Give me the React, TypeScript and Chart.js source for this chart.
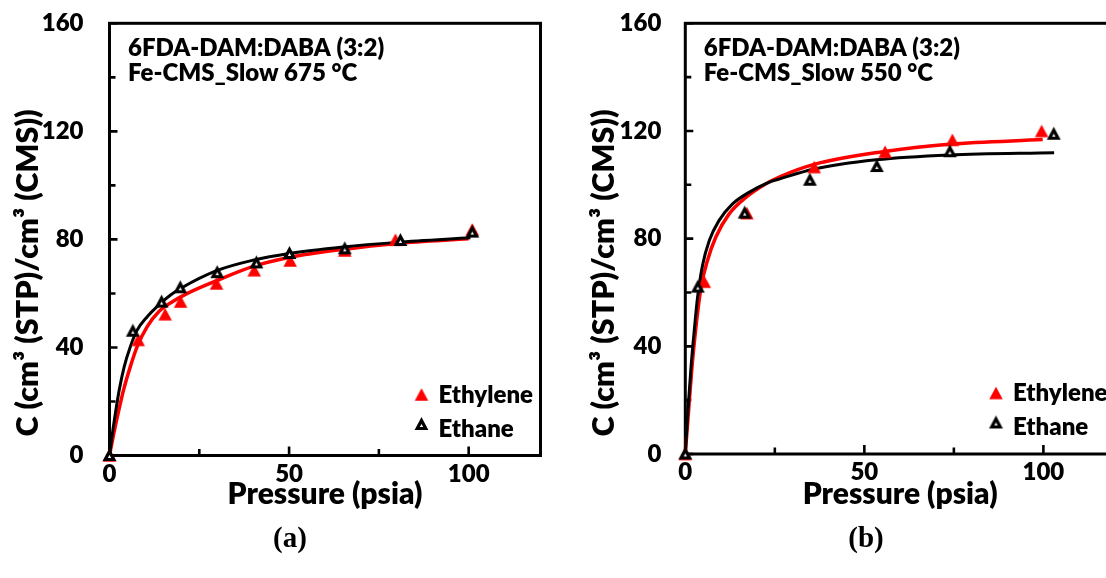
import React, { useEffect, useRef } from 'react';
import { Chart, registerables } from 'chart.js';

Chart.register(...registerables);

// ---------- axis ticks ----------
const pressureTicks = [0, 50, 100];
const pressureMinorTicks = [25, 75];
const uptakeTicks = [0, 40, 80, 120, 160];
const uptakeMinorTicks = [20, 60, 100, 140];

// ---------- panel (a): Fe-CMS_Slow 675 °C ----------
const ethyleneA_P = [0, 8.0, 15.5, 19.8, 29.8, 40.3, 50.3, 65.5, 79.6, 101];
const ethyleneA_C = [0, 42.8, 52.3, 57.0, 63.7, 68.6, 72.2, 75.9, 79.9, 83.7];
const ethaneA_P = [0, 6.5, 14.5, 19.7, 30.0, 40.9, 50.1, 65.5, 81.0, 101];
const ethaneA_C = [0, 46.0, 56.8, 62.1, 67.7, 71.3, 74.8, 76.5, 79.6, 82.7];
const ethyleneFitA_P = [0, 1.1, 2.5, 3.9, 5.8, 7.7, 10.5, 13.7, 17.5, 21.7, 30, 40, 50, 65, 80, 100];
const ethyleneFitA_C = [0, 7.5, 16.2, 24.2, 32.9, 40.3, 47.7, 53.2, 56.9, 60.0, 64.8, 70.0, 73.3, 76.3, 78.5, 80.2];
const ethaneFitA_P = [0, 0.67, 1.6, 2.7, 4.1, 5.8, 7.7, 10.5, 13.7, 17, 20, 30, 40, 50, 65, 80, 100.5];
const ethaneFitA_C = [0, 6.9, 15.3, 24.2, 32.9, 40.3, 46.4, 51.4, 55.7, 59.4, 62.0, 68.5, 72.3, 74.8, 77.2, 78.9, 80.6];

// ---------- panel (b): Fe-CMS_Slow 550 °C ----------
const ethyleneB_P = [0, 5.3, 17.2, 36.0, 55.8, 74.6, 99.5];
const ethyleneB_C = [0, 64.0, 89.5, 106.6, 112.3, 116.7, 120.0];
const ethaneB_P = [0, 3.5, 16.6, 34.8, 53.5, 73.9, 102.9];
const ethaneB_C = [0, 62.0, 89.5, 101.7, 106.8, 112.3, 118.8];
const ethyleneFitB_P = [0, 0.94, 1.86, 2.97, 4.4, 6.2, 8.5, 12.2, 16.9, 22.4, 26.4, 35.7, 55.2, 73.8, 99.8];
const ethyleneFitB_C = [0, 16.5, 32.3, 47.2, 62.0, 71.9, 80.5, 89.1, 95.3, 100.3, 103.0, 107.5, 112.3, 115.1, 116.8];
const ethaneFitB_P = [0, 0.67, 1.6, 2.5, 3.4, 4.8, 6.7, 9.4, 13.2, 17.8, 23.3, 26.4, 35.7, 53.3, 73.8, 103];
const ethaneFitB_C = [0, 15.0, 32.3, 45.9, 58.0, 70.0, 79.3, 86.7, 92.9, 97.2, 100.9, 102.2, 105.8, 109.3, 111.1, 111.9];

const seriesNames = ['Ethylene', 'Ethane'];
const xTitle = 'Pressure (psia)';
const yTitle = 'C (cm³ (STP)/cm³ (CMS))';

const FONT = 'Lato';
const WEIGHT = '800';
const H = 578;

function pts(xs: number[], ys: number[]) {
  return xs.map((x, i) => ({ x, y: ys[i] }));
}

function makeTriangle(fill: string, stroke: string | null, w: number, h: number, lw: number) {
  const c = document.createElement('canvas');
  const cw = Math.ceil(w + lw * 2 + 4);
  const ch = Math.ceil(h + lw * 2 + 4);
  c.width = cw;
  c.height = ch;
  const g = c.getContext('2d')!;
  g.beginPath();
  g.moveTo(cw / 2, (ch - h) / 2);
  g.lineTo((cw + w) / 2, (ch + h) / 2);
  g.lineTo((cw - w) / 2, (ch + h) / 2);
  g.closePath();
  g.fillStyle = fill;
  g.fill();
  if (stroke) {
    g.lineWidth = lw;
    g.lineJoin = 'miter';
    g.strokeStyle = stroke;
    g.stroke();
  }
  return c;
}

type PanelCfg = {
  left: number;
  width: number;
  yAxisWidth: number;
  xAxisHeight: number;
  padTop: number;
  padRight: number;
  yTickPad: number;
  note1: string;
  note2: string;
  ethP: number[]; ethC: number[];
  etaP: number[]; etaC: number[];
  ethFitP: number[]; ethFitC: number[];
  etaFitP: number[]; etaFitC: number[];
};

function Panel({ cfg }: { cfg: PanelCfg }) {
  const ref = useRef<HTMLCanvasElement | null>(null);
  useEffect(() => {
    if (!ref.current) return;
    const redTri = makeTriangle('#ff0000', null, 13.5, 12.5, 0);
    const blackTri = makeTriangle('#ffffff', '#000000', 8.5, 8, 3.2);

    const decor = {
      id: 'decor',
      beforeDatasetsDraw(chart: any) {
        const { ctx, chartArea: ca, scales } = chart;
        ctx.save();
        ctx.strokeStyle = '#000';
        ctx.lineWidth = 3;
        ctx.strokeRect(ca.left, ca.top, ca.right - ca.left, ca.bottom - ca.top);
        ctx.lineWidth = 2.6;
        ctx.beginPath();
        pressureTicks.forEach((v) => {
          const x = scales.x.getPixelForValue(v);
          ctx.moveTo(x, ca.bottom);
          ctx.lineTo(x, ca.bottom - 9);
        });
        pressureMinorTicks.forEach((v) => {
          const x = scales.x.getPixelForValue(v);
          ctx.moveTo(x, ca.bottom);
          ctx.lineTo(x, ca.bottom - 6.5);
        });
        uptakeTicks.forEach((v) => {
          const y = scales.y.getPixelForValue(v);
          ctx.moveTo(ca.left, y);
          ctx.lineTo(ca.left + 8, y);
        });
        uptakeMinorTicks.forEach((v) => {
          const y = scales.y.getPixelForValue(v);
          ctx.moveTo(ca.left, y);
          ctx.lineTo(ca.left + 6, y);
        });
        ctx.stroke();
        ctx.restore();
      },
      afterDraw(chart: any) {
        const { ctx, chartArea: ca } = chart;
        ctx.save();
        ctx.fillStyle = '#000';
        // annotation
        ctx.font = `${WEIGHT} 24px ${FONT}`;
        ctx.textAlign = 'left';
        ctx.textBaseline = 'alphabetic';
        ctx.fillText(cfg.note1, ca.left + 18.5, 56);
        ctx.fillText(cfg.note2, ca.left + 18.5, 81);
        // x title
        ctx.font = `${WEIGHT} 30px ${FONT}`;
        ctx.textAlign = 'center';
        ctx.fillText(xTitle, (ca.left + ca.right) / 2, 504);
        // y title
        ctx.save();
        ctx.translate(ca.left - 81.5, 273);
        ctx.rotate(-Math.PI / 2);
        ctx.textBaseline = 'middle';
        ctx.font = `${WEIGHT} 30.5px ${FONT}`;
        ctx.fillText(yTitle, 0, 0);
        ctx.restore();
        // legend
        ctx.font = `${WEIGHT} 24px ${FONT}`;
        ctx.textAlign = 'left';
        ctx.textBaseline = 'alphabetic';
        const mx = ca.right - 119;
        ctx.drawImage(redTri, mx - redTri.width / 2, ca.bottom - 61 - redTri.height / 2);
        ctx.fillText(seriesNames[0], ca.right - 102, ca.bottom - 53);
        ctx.drawImage(blackTri, mx - blackTri.width / 2, ca.bottom - 31 - blackTri.height / 2);
        ctx.fillText(seriesNames[1], ca.right - 102, ca.bottom - 19);
        ctx.restore();
      },
    };

    const tickFont = { family: FONT, weight: WEIGHT as any, size: 24 };

    const chart = new Chart(ref.current, {
      type: 'scatter',
      data: {
        datasets: [
          {
            label: 'Ethane',
            data: pts(cfg.etaP, cfg.etaC),
            showLine: false,
            pointStyle: blackTri as any,
            pointRadius: 6,
            clip: false as any,
          },
          {
            label: 'Ethylene',
            data: pts(cfg.ethP, cfg.ethC),
            showLine: false,
            pointStyle: redTri as any,
            pointRadius: 6,
            clip: false as any,
          },
          {
            label: 'Ethane fit',
            data: pts(cfg.etaFitP, cfg.etaFitC),
            showLine: true,
            borderColor: '#000',
            borderWidth: 3,
            pointRadius: 0,
            cubicInterpolationMode: 'monotone',
            clip: false as any,
          },
          {
            label: 'Ethylene fit',
            data: pts(cfg.ethFitP, cfg.ethFitC),
            showLine: true,
            borderColor: '#ff0000',
            borderWidth: 3.5,
            pointRadius: 0,
            cubicInterpolationMode: 'monotone',
            clip: false as any,
          },
        ],
      },
      options: {
        animation: false,
        responsive: false,
        events: [],
        layout: { padding: { left: 0, top: cfg.padTop, right: cfg.padRight, bottom: 0 } },
        plugins: { legend: { display: false }, tooltip: { enabled: false } },
        scales: {
          x: {
            type: 'linear',
            min: 0,
            max: 120,
            grid: { display: false, drawTicks: false },
            border: { display: false },
            ticks: { color: '#000', font: tickFont, padding: 4, maxRotation: 0, autoSkip: false },
            afterBuildTicks: (s: any) => {
              s.ticks = pressureTicks.map((v) => ({ value: v }));
            },
            afterFit: (s: any) => {
              s.height = cfg.xAxisHeight;
              s.paddingLeft = 0;
              s.paddingRight = 0;
            },
          },
          y: {
            type: 'linear',
            min: 0,
            max: 160,
            grid: { display: false, drawTicks: false },
            border: { display: false },
            ticks: { color: '#000', font: tickFont, padding: cfg.yTickPad, autoSkip: false },
            afterBuildTicks: (s: any) => {
              s.ticks = uptakeTicks.map((v) => ({ value: v }));
            },
            afterFit: (s: any) => {
              s.width = cfg.yAxisWidth;
              s.paddingTop = 0;
              s.paddingBottom = 0;
            },
          },
        },
      },
      plugins: [decor],
    } as any);
    return () => chart.destroy();
  }, [cfg]);

  return (
    <canvas
      ref={ref}
      width={cfg.width}
      height={H}
      style={{ position: 'absolute', left: cfg.left, top: 0, width: cfg.width, height: H }}
    />
  );
}

const panelA: PanelCfg = {
  left: 0,
  width: 560,
  yAxisWidth: 109.5,
  xAxisHeight: H - 455.5,
  padTop: 23.3,
  padRight: 560 - 540.5,
  yTickPad: 26,
  note1: '6FDA-DAM:DABA (3:2)',
  note2: 'Fe-CMS_Slow 675 °C',
  ethP: ethyleneA_P, ethC: ethyleneA_C,
  etaP: ethaneA_P, etaC: ethaneA_C,
  ethFitP: ethyleneFitA_P, ethFitC: ethyleneFitA_C,
  etaFitP: ethaneFitA_P, etaFitC: ethaneFitA_C,
};

const panelB: PanelCfg = {
  left: 560,
  width: 570,
  yAxisWidth: 125.3,
  xAxisHeight: H - 454,
  padTop: 23.3,
  padRight: 570 - 555,
  yTickPad: 24,
  note1: '6FDA-DAM:DABA (3:2)',
  note2: 'Fe-CMS_Slow 550 °C',
  ethP: ethyleneB_P, ethC: ethyleneB_C,
  etaP: ethaneB_P, etaC: ethaneB_C,
  ethFitP: ethyleneFitB_P, ethFitC: ethyleneFitB_C,
  etaFitP: ethaneFitB_P, etaFitC: ethaneFitB_C,
};

const captionStyle: React.CSSProperties = {
  position: 'absolute',
  top: 537,
  transform: 'translate(-50%, -50%)',
  fontFamily: '"Liberation Serif", serif',
  fontWeight: 'bold',
  fontSize: 29,
  lineHeight: 1,
  color: '#000',
  whiteSpace: 'nowrap',
};

export default function App() {
  return (
    <div
      style={{
        position: 'fixed',
        left: 0,
        top: 0,
        width: 1106,
        height: 578,
        overflow: 'hidden',
        background: '#fff',
      }}
    >
      <Panel cfg={panelA} />
      <Panel cfg={panelB} />
      <div style={{ ...captionStyle, left: 290 }}>(a)</div>
      <div style={{ ...captionStyle, left: 866 }}>(b)</div>
    </div>
  );
}
